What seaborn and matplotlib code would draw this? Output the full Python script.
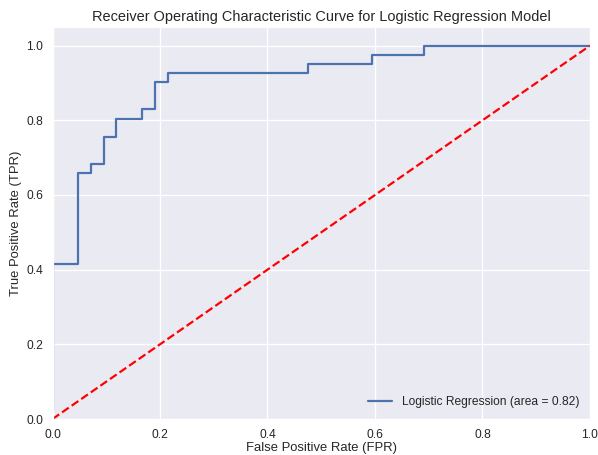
import pandas as pd
import matplotlib
matplotlib.use('Agg')
import matplotlib.pyplot as plt
import seaborn as sns

# ROC curve vertices (42 negatives, 41 positives)
fpr = [0, 0, 2/42, 2/42, 3/42, 3/42, 4/42, 4/42, 5/42, 5/42, 7/42, 7/42,
       8/42, 8/42, 9/42, 9/42, 20/42, 20/42, 25/42, 25/42, 29/42, 29/42, 1.0]
tpr = [1/41, 17/41, 17/41, 27/41, 27/41, 28/41, 28/41, 31/41, 31/41, 33/41, 33/41, 34/41,
       34/41, 37/41, 37/41, 38/41, 38/41, 39/41, 39/41, 40/41, 40/41, 1.0, 1.0]
roc_auc = 0.82
diag = [0, 1]

sns.set_theme(style="darkgrid")
plt.rcParams['font.family'] = ['Liberation Sans', 'DejaVu Sans']
plt.rcParams['axes.labelcolor'] = '.15'
plt.rcParams['grid.linewidth'] = 1.3

fig = plt.figure(figsize=(598/72, 455/72), dpi=72)
ax = fig.add_axes([0.0878, 0.0791, 0.8988, 0.8616])

df = pd.DataFrame({'fpr': fpr, 'tpr': tpr})
sns.lineplot(data=df, x='fpr', y='tpr', sort=False, estimator=None, ax=ax,
             color='#4C72B0', linewidth=2.2,
             label='Logistic Regression (area = %0.2f)' % roc_auc)
ax.plot(diag, diag, linestyle='--', color='red', linewidth=2.2)

ax.set_xlim(0.0, 1.0)
ax.set_ylim(0.0, 1.05)
ax.set_xlabel('False Positive Rate (FPR)', fontsize=13, labelpad=1)
ax.set_ylabel('True Positive Rate (TPR)', fontsize=13)
ax.set_title('Receiver Operating Characteristic Curve for Logistic Regression Model', fontsize=14.5)
ax.tick_params(labelsize=12, colors='.15')
ax.legend(loc='lower right', frameon=False, fontsize=12)

fig.savefig('out.png', dpi=72)
